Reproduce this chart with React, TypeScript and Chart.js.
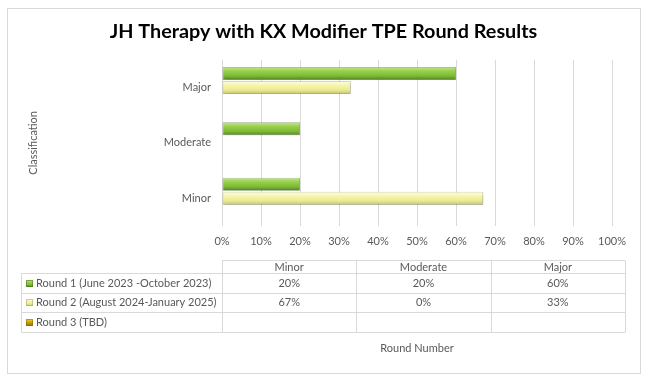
import { useEffect, useRef } from 'react';
import { Chart, registerables } from 'chart.js';

Chart.register(...registerables);

const titleText = 'JH Therapy with KX Modifier TPE Round Results';
const categories = ['Minor', 'Moderate', 'Major'];
const seriesNames = [
  'Round 1 (June 2023 -October 2023)',
  'Round 2 (August 2024-January 2025)',
  'Round 3 (TBD)',
];
const round1 = [20, 20, 60];
const round2 = [67, 0, 33];
const round3: (number | null)[] = [null, null, null];
const yAxisTitle = 'Classification';
const xAxisTitle = 'Round Number';

const FONT = 'Lato, Calibri, Carlito, "Open Sans", sans-serif';
const TEXT = '#595959';
const GRID = '#d9d9d9';

const gradStops: string[][] = [
  ['#c4e88e', '#9ad14f', '#7cba33', '#4f8020'],
  ['#fefedc', '#f6f6b4', '#eaea92', '#c2c266'],
  ['#f7dc55', '#dcb314', '#b38b05', '#8f6e00'],
];
const edgeColors = ['rgba(75,115,30,0.55)', 'rgba(165,165,90,0.55)', 'rgba(140,105,0,0.55)'];

function makeGrad(ctx: CanvasRenderingContext2D, y0: number, y1: number, stops: string[]) {
  const g = ctx.createLinearGradient(0, y0, 0, y1);
  g.addColorStop(0, stops[0]);
  g.addColorStop(0.3, stops[1]);
  g.addColorStop(0.7, stops[2]);
  g.addColorStop(1, stops[3]);
  return g;
}

const frameAndTable = {
  id: 'frameAndTable',
  beforeDraw(chart: any) {
    const ctx = chart.ctx as CanvasRenderingContext2D;
    ctx.save();
    ctx.fillStyle = '#ffffff';
    ctx.fillRect(0, 0, chart.width, chart.height);
    ctx.strokeStyle = GRID;
    ctx.lineWidth = 1;
    ctx.strokeRect(7.5, 8.5, 633, 365);
    ctx.restore();
  },
  beforeDatasetsDraw(chart: any) {
    const ctx = chart.ctx as CanvasRenderingContext2D;
    chart.data.datasets.forEach((_ds: any, di: number) => {
      const meta = chart.getDatasetMeta(di);
      meta.data.forEach((el: any) => {
        if (el.y == null || isNaN(el.y)) return;
        const h = el.height;
        const g = makeGrad(ctx, el.y - h / 2, el.y + h / 2, gradStops[di]);
        el.options = Object.assign({}, el.options, { backgroundColor: g });
      });
    });
    ctx.save();
    ctx.shadowColor = 'rgba(0,0,0,0.28)';
    ctx.shadowBlur = 3;
    ctx.shadowOffsetX = 1;
    ctx.shadowOffsetY = 1.5;
  },
  afterDatasetsDraw(chart: any) {
    chart.ctx.restore();
  },
  afterDraw(chart: any) {
    const ctx = chart.ctx as CanvasRenderingContext2D;
    const x = chart.scales.x;
    const left = x.left;
    const right = x.right + 13;
    const colW = (right - left) / categories.length;
    const base = chart.chartArea.bottom;
    const headerTop = base + 34;
    const headerBottom = headerTop + 13.3;
    const rowH = 19.4;
    const tableLeft = 21.5;
    const rows = [round1, round2, round3];
    const tableBottom = headerBottom + rowH * rows.length;

    ctx.save();
    ctx.strokeStyle = GRID;
    ctx.lineWidth = 1;
    ctx.beginPath();
    const hy = Math.round(headerTop) + 0.5;
    ctx.moveTo(left, hy);
    ctx.lineTo(right, hy);
    for (let r = 0; r <= rows.length; r++) {
      const yy = Math.round(headerBottom + rowH * r) + 0.5;
      ctx.moveTo(tableLeft, yy);
      ctx.lineTo(right, yy);
    }
    const by = Math.round(tableBottom) + 0.5;
    ctx.moveTo(tableLeft, Math.round(headerBottom) + 0.5);
    ctx.lineTo(tableLeft, by);
    for (let c = 0; c <= categories.length; c++) {
      const xx = Math.round(left + colW * c) + 0.5;
      ctx.moveTo(xx, hy);
      ctx.lineTo(xx, by);
    }
    ctx.stroke();

    ctx.fillStyle = TEXT;
    ctx.font = `11px ${FONT}`;
    ctx.textBaseline = 'middle';
    ctx.textAlign = 'center';
    categories.forEach((cat, c) => {
      ctx.fillText(cat, left + colW * (c + 0.5), (headerTop + headerBottom) / 2 + 0.5);
    });
    rows.forEach((vals, r) => {
      const cy = headerBottom + rowH * (r + 0.5) + 0.5;
      ctx.textAlign = 'center';
      ctx.fillStyle = TEXT;
      vals.forEach((v, c) => {
        if (v == null) return;
        ctx.fillText(`${v}%`, left + colW * (c + 0.5), cy);
      });
      const sx = 26;
      const sy = Math.round(cy - 3.5);
      ctx.fillStyle = makeGrad(ctx, sy, sy + 7, gradStops[r]);
      ctx.fillRect(sx, sy, 7, 7);
      ctx.strokeStyle = edgeColors[r];
      ctx.strokeRect(sx + 0.5, sy + 0.5, 6, 6);
      ctx.fillStyle = TEXT;
      ctx.textAlign = 'left';
      ctx.fillText(seriesNames[r], 36, cy);
    });
    ctx.restore();
  },
};

export default function App() {
  const ref = useRef<HTMLCanvasElement | null>(null);
  useEffect(() => {
    document.body.style.margin = '0';
    const canvas = ref.current;
    if (!canvas) return;
    const datasets = [round1, round2, round3].map((data, i) => ({
      label: seriesNames[i],
      data,
      backgroundColor: gradStops[i][1],
      borderColor: edgeColors[i],
      borderWidth: 0.8,
      borderSkipped: false as const,
      categoryPercentage: 0.76,
      barPercentage: 0.93,
    }));
    const chart = new Chart(canvas, {
      type: 'bar',
      data: { labels: categories, datasets },
      plugins: [frameAndTable],
      options: {
        indexAxis: 'y',
        animation: false,
        responsive: false,
        devicePixelRatio: 1,
        layout: { padding: { top: 20, left: 11, right: 17, bottom: 0 } },
        plugins: {
          legend: { display: false },
          tooltip: { enabled: false },
          title: {
            display: true,
            text: titleText,
            color: '#000000',
            font: { family: FONT, size: 19.8, weight: 'bold' },
            padding: { top: 0, bottom: 16 },
          },
        },
        scales: {
          x: {
            type: 'linear',
            min: 0,
            max: 100,
            ticks: {
              stepSize: 10,
              color: TEXT,
              font: { family: FONT, size: 11 },
              padding: 9,
              callback: (v: any) => `${v}%`,
            },
            grid: { color: GRID, drawTicks: false },
            border: { display: false },
            title: {
              display: true,
              text: xAxisTitle,
              color: TEXT,
              font: { family: FONT, size: 11 },
              padding: { top: 0, bottom: 28.4 },
            },
            afterFit: (s: any) => {
              s.height = 157;
            },
          },
          y: {
            reverse: true,
            ticks: {
              color: TEXT,
              font: { family: FONT, size: 11 },
              padding: 11,
            },
            grid: { display: false, drawTicks: false },
            border: { display: false },
            title: {
              display: true,
              text: yAxisTitle,
              color: TEXT,
              font: { family: FONT, size: 11 },
              padding: { top: 15.4, bottom: 0 },
            },
            afterFit: (s: any) => {
              s.width = 211;
            },
          },
          yRight: {
            type: 'category',
            position: 'right',
            labels: categories,
            reverse: true,
            ticks: { display: false },
            grid: { display: false, drawTicks: false },
            border: { display: false },
            afterFit: (s: any) => {
              s.width = 24;
            },
          },
        },
      },
    });
    return () => chart.destroy();
  }, []);
  return (
    <div style={{ width: 653, height: 383 }}>
      <canvas ref={ref} width={653} height={383} style={{ display: 'block' }} />
    </div>
  );
}
